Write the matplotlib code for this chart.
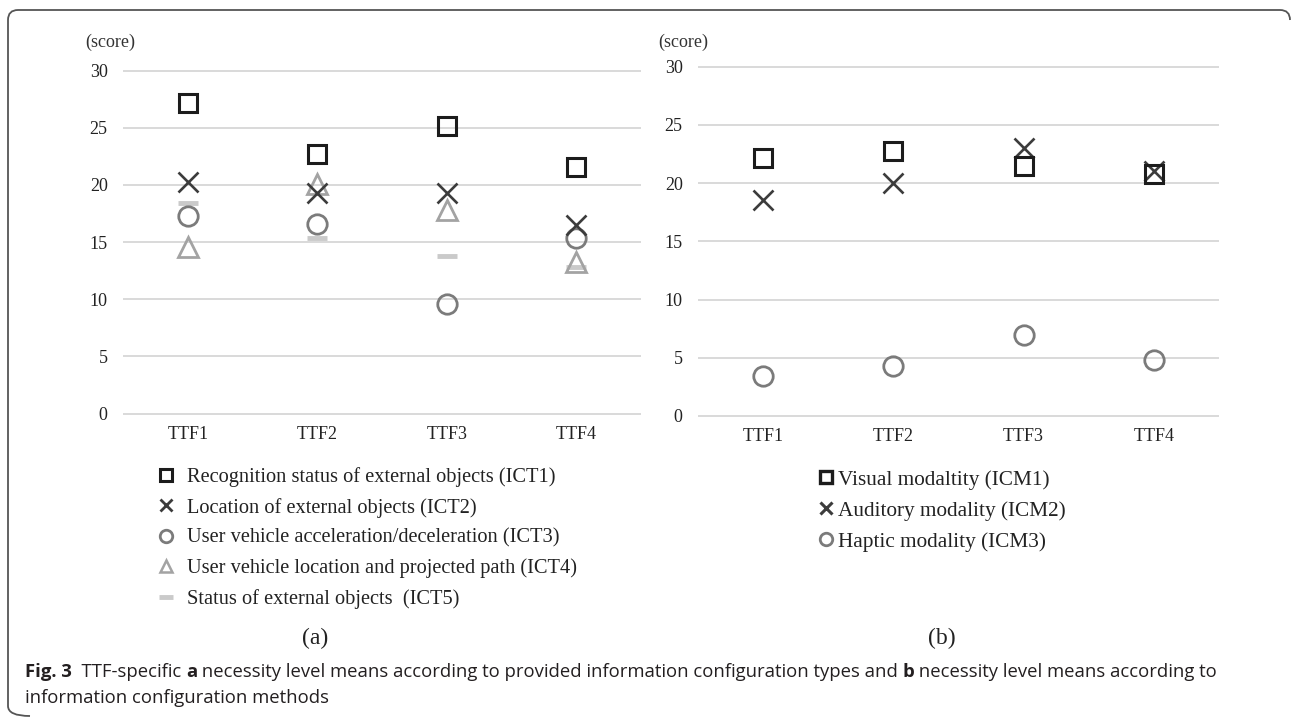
import numpy as np
import matplotlib.pyplot as plt
from matplotlib.lines import Line2D
from matplotlib.path import Path
from matplotlib.patches import PathPatch

# categories
ttf = ["TTF1", "TTF2", "TTF3", "TTF4"]

# (a) necessity level by information configuration type
ict1 = [27.2, 22.7, 25.2, 21.6]
ict2 = [20.3, 19.3, 19.3, 16.5]
ict3 = [17.3, 16.6, 9.55, 15.35]
ict4 = [14.6, 20.1, 17.8, 13.3]
ict5 = [18.45, 15.35, 13.8, 12.85]
labels_a = ["Recognition status of external objects (ICT1)",
            "Location of external objects (ICT2)",
            "User vehicle acceleration/deceleration (ICT3)",
            "User vehicle location and projected path (ICT4)",
            "Status of external objects  (ICT5)"]

# (b) necessity level by information configuration method
icm1 = [22.2, 22.8, 21.5, 20.8]
icm2 = [18.55, 20.0, 23.05, 21.0]
icm3 = [3.45, 4.3, 6.95, 4.85]
labels_b = ["Visual modaltity (ICM1)",
            "Auditory modality (ICM2)",
            "Haptic modality (ICM3)"]

yticks = [0, 5, 10, 15, 20, 25, 30]

W, H = 1292, 717
SERIF = "Liberation Serif"
CAP = "Open Sans"

fig = plt.figure(figsize=(W / 100, H / 100), dpi=100)


def fx(px):
    return px / W


def fy(py):
    return 1 - py / H


# marker styles
sq = dict(marker="s", mfc="none", mec="#1c1c1c", ms=13, mew=2.2)
xx = dict(marker="x", mfc="none", mec="#3c3c3c", ms=14, mew=1.9)
ci = dict(marker="o", mfc="none", mec="#7b7b7b", ms=14, mew=2.0)
tr = dict(marker="^", mfc="none", mec="#a3a3a3", ms=15, mew=2.0)
da = dict(marker="_", mfc="#cacaca", mec="#cacaca", ms=15, mew=3.5)


def setup(ax):
    x = np.arange(len(ttf))
    ax.set_xlim(-0.5, len(ttf) - 0.5)
    ax.set_ylim(0, 30)
    ax.hlines(yticks, -0.5, len(ttf) - 0.5, color="#d9d9d9", lw=1.4,
              clip_on=False, zorder=0)
    for s in ax.spines.values():
        s.set_visible(False)
    ax.set_xticks(x)
    ax.set_xticklabels(ttf, fontsize=13, family=SERIF, color="#222222")
    ax.set_yticks(yticks)
    ax.set_yticklabels([str(v) for v in yticks], fontsize=13, family=SERIF,
                       color="#222222")
    ax.tick_params(length=0, axis="y", pad=11)
    ax.tick_params(length=0, axis="x", pad=9)
    return x


# ---- panel (a)
ax_a = fig.add_axes([fx(123), fy(413.5), 518 / W, 342.8 / H])
x = setup(ax_a)
for vals, st in [(ict5, da), (ict4, tr), (ict3, ci), (ict2, xx), (ict1, sq)]:
    ax_a.plot(x, vals, linestyle="none", clip_on=False, **st)

# ---- panel (b)
ax_b = fig.add_axes([fx(698), fy(416), 521 / W, 349.3 / H])
x = setup(ax_b)
for vals, st in [(icm3, ci), (icm2, xx), (icm1, sq)]:
    ax_b.plot(x, vals, linestyle="none", clip_on=False, **st)

fig.text(fx(85), fy(42), "(score)", fontsize=13, family=SERIF,
         color="#333333", va="center")
fig.text(fx(658), fy(42), "(score)", fontsize=13, family=SERIF,
         color="#333333", va="center")


def proxy(st, ms, mew):
    d = dict(st)
    d["ms"] = ms
    d["mew"] = mew
    return Line2D([], [], linestyle="none", **d)


hand_a = [proxy(sq, 9, 2.2), proxy(xx, 9, 2.0), proxy(ci, 9, 2.0),
          proxy(tr, 9, 1.8), proxy(da, 10, 3.5)]
leg_a = ax_a.legend(hand_a, labels_a, loc="upper left",
                    bbox_to_anchor=(fx(156), fy(467)),
                    bbox_transform=fig.transFigure, frameon=False,
                    prop=dict(family=SERIF, size=14.7), handlelength=1.0,
                    handletextpad=0.5, labelspacing=0.53, borderpad=0,
                    borderaxespad=0)
for t in leg_a.get_texts():
    t.set_color("#222222")

hand_b = [proxy(sq, 9, 2.4), proxy(xx, 9, 2.2), proxy(ci, 9, 2.0)]
leg_b = ax_b.legend(hand_b, labels_b, loc="upper left",
                    bbox_to_anchor=(fx(819.5), fy(470)),
                    bbox_transform=fig.transFigure, frameon=False,
                    prop=dict(family=SERIF, size=15.3), handlelength=0.6,
                    handletextpad=0.25, labelspacing=0.52, borderpad=0,
                    borderaxespad=0)
for t in leg_b.get_texts():
    t.set_color("#222222")

fig.text(fx(315), fy(638), "(a)", fontsize=17, family=SERIF,
         color="#222222", ha="center", va="center")
fig.text(fx(942), fy(638), "(b)", fontsize=17, family=SERIF,
         color="#222222", ha="center", va="center")

# caption, written piece by piece so the bold parts sit inline
cap1 = [("Fig. 3", "bold"), ("  TTF-specific ", "normal"), ("a", "bold"),
        (" necessity level means according to provided information "
         "configuration types and ", "normal"), ("b", "bold"),
        (" necessity level means according to", "normal")]
cap2 = [("information configuration methods", "normal")]
renderer = fig.canvas.get_renderer()


def advance(s, size, weight):
    p1 = fig.text(0, 0, "x" + s + "x", fontsize=size, family=CAP,
                  fontweight=weight)
    p2 = fig.text(0, 0, "xx", fontsize=size, family=CAP, fontweight=weight)
    w = p1.get_window_extent(renderer).width - p2.get_window_extent(renderer).width
    p1.remove()
    p2.remove()
    return w


# pick a size so the first caption line spans the same width as the original
ref = sum(advance(s, 10, w) for s, w in cap1)
cap_size = 10 * (1216 - 25) / ref


def caption_line(x0, y0, pieces):
    xp = x0
    for s, w in pieces:
        fig.text(fx(xp), fy(y0), s, fontsize=cap_size, family=CAP,
                 fontweight=w, color="#231f20", va="baseline")
        xp += advance(s, cap_size, w)


caption_line(25, 677, cap1)
caption_line(25, 703, cap2)

# rounded frame: left edge, top edge and a short stub at the top right
r = 10
verts = [(30, 716), (8, 716), (8, 716 - r),
         (8, 10 + r), (8, 10), (8 + r, 10),
         (1290 - r, 10), (1290, 10), (1290, 10 + r)]
codes = [Path.MOVETO, Path.CURVE3, Path.CURVE3,
         Path.LINETO, Path.CURVE3, Path.CURVE3,
         Path.LINETO, Path.CURVE3, Path.CURVE3]
verts = [(fx(a), fy(b)) for a, b in verts]
frame = PathPatch(Path(verts, codes), transform=fig.transFigure,
                  fill=False, edgecolor="#555555", lw=1.3)
fig.patches.append(frame)

fig.savefig("out.png", dpi=100)
